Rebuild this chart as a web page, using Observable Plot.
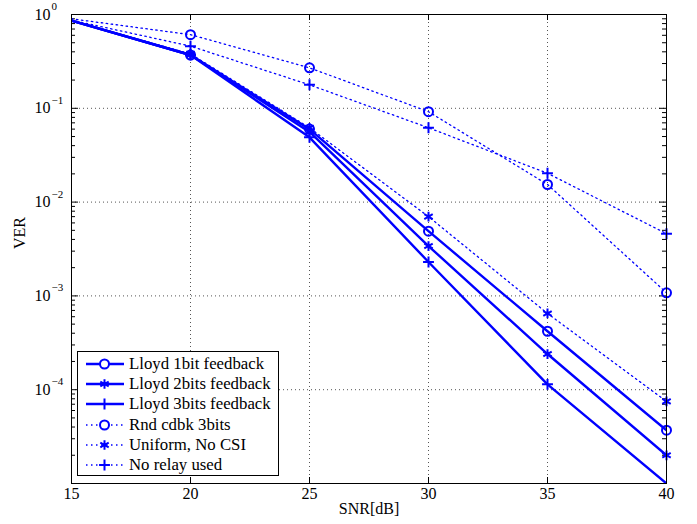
<!DOCTYPE html>
<html>
<head>
<meta charset="utf-8">
<script src="https://cdn.jsdelivr.net/npm/d3@7"></script>
<script src="https://cdn.jsdelivr.net/npm/@observablehq/plot@0.6"></script>
<style>
  html, body { margin: 0; padding: 0; background: white; }
  #wrap { position: relative; width: 697px; height: 524px; font-family: "Liberation Serif", "Times New Roman", serif; }
  #legend { position: absolute; left: 77px; top: 351px; width: 200px; height: 123px; border: 1px solid black; background: white; }
  .row { position: absolute; left: 0; height: 20px; display: flex; align-items: center; font-size: 16.8px; color: black; white-space: nowrap; }
  .row svg { margin-left: 7px; margin-right: 5px; }
</style>
</head>
<body>
<div id="wrap"><div id="legend"></div></div>
<script>
// ---- data ----
const snr = [15, 20, 25, 30, 35, 40];
const seriesNames = ["Lloyd 1bit feedback", "Lloyd 2bits feedback", "Lloyd 3bits feedback", "Rnd cdbk 3bits", "Uniform, No CSI", "No relay used"];
const lloyd1  = [0.86, 0.37, 0.060, 0.0049, 4.2e-4, 3.7e-5];
const lloyd2  = [0.86, 0.37, 0.056, 0.0034, 2.4e-4, 2.0e-5];
const lloyd3  = [0.86, 0.37, 0.049, 0.0023, 1.14e-4, 1.0e-5];
const rnd     = [0.90, 0.61, 0.27, 0.092, 0.0154, 0.00108];
const uniform = [0.86, 0.38, 0.062, 0.0070, 6.5e-4, 7.5e-5];
const norelay = [0.87, 0.46, 0.178, 0.062, 0.0203, 0.0046];
const xTicks = [15, 20, 25, 30, 35, 40];
const xGrid = [20, 25, 30, 35];
const yMajor = [1, 1e-1, 1e-2, 1e-3, 1e-4, 1e-5];
const yLabelExp = [0, -1, -2, -3, -4];
const yGrid = [1e-1, 1e-2, 1e-3, 1e-4];

// ---- styles per series ----
const styles = [
  {symbol: "circle", dash: null, r: 4.5},
  {symbol: "asterisk", dash: null, r: 4.6},
  {symbol: "plus", dash: null, r: 3.6},
  {symbol: "circle", dash: "1.5,3.5", r: 4.5},
  {symbol: "asterisk", dash: "1.5,3.5", r: 4.6},
  {symbol: "plus", dash: "1.5,3.5", r: 3.6}
];
const values = [lloyd1, lloyd2, lloyd3, rnd, uniform, norelay];

const minor = [];
for (let k = -5; k < 0; k++) for (let m = 2; m <= 9; m++) minor.push(m * Math.pow(10, k));

const plotH = 524 - 14 - 41, plotW = 697 - 71 - 31;

const marks = [
  Plot.ruleX(xGrid, {stroke: "#555", strokeDasharray: "1,3", strokeWidth: 1}),
  Plot.ruleY(yGrid, {stroke: "#555", strokeDasharray: "1,3", strokeWidth: 1}),
  // ticks (inside)
  Plot.tickX(xTicks, {x: d => d, insetTop: plotH - 6, stroke: "black"}),
  Plot.tickX(xTicks, {x: d => d, insetBottom: plotH - 6, stroke: "black"}),
  Plot.tickY(yMajor, {y: d => d, insetRight: plotW - 7, stroke: "black"}),
  Plot.tickY(yMajor, {y: d => d, insetLeft: plotW - 7, stroke: "black"}),
  Plot.tickY(minor, {y: d => d, insetRight: plotW - 4, stroke: "black"}),
  Plot.tickY(minor, {y: d => d, insetLeft: plotW - 4, stroke: "black"})
];

values.forEach((vals, i) => {
  const st = styles[i];
  const rows = snr.map((x, j) => ({snr: x, ver: vals[j]}));
  marks.push(Plot.line(rows, {x: "snr", y: "ver", stroke: "blue", strokeWidth: st.dash ? 1.3 : 2.4, strokeDasharray: st.dash, clip: true}));
  marks.push(Plot.dot(rows.filter(d => d.snr >= 20 && d.ver > 1e-5), {x: "snr", y: "ver", symbol: st.symbol, r: st.r, stroke: "blue", fill: "none", strokeWidth: 2}));
});

marks.push(
  Plot.frame({stroke: "black", strokeWidth: 1}),
  Plot.text(xTicks, {x: d => d, frameAnchor: "bottom", dy: 15, text: d => String(d), fontSize: 16, fill: "black"}),
  Plot.text(yLabelExp, {y: e => Math.pow(10, e), frameAnchor: "left", dx: -21, text: () => "10", textAnchor: "end", fontSize: 16, fill: "black"}),
  Plot.text(yLabelExp, {y: e => Math.pow(10, e), frameAnchor: "left", dx: -20, dy: -8, text: e => e === 0 ? "0" : "\u2212" + (-e), textAnchor: "start", fontSize: 11, fill: "black"}),
  Plot.text(["SNR[dB]"], {frameAnchor: "bottom", dy: 30, text: d => d, fontSize: 16, fill: "black"}),
  Plot.text(["VER"], {frameAnchor: "left", dx: -52, rotate: -90, text: d => d, fontSize: 16, fill: "black"})
);

const chart = Plot.plot({
  width: 697, height: 524,
  marginLeft: 71, marginRight: 31, marginTop: 14, marginBottom: 41,
  x: {domain: [15, 40], axis: null},
  y: {type: "log", domain: [1e-5, 1], axis: null},
  style: {fontFamily: "Liberation Serif, Times New Roman, serif", background: "white", overflow: "visible"},
  marks
});
document.getElementById("wrap").prepend(chart);
chart.style.position = "absolute"; chart.style.left = "0"; chart.style.top = "0";

// ---- legend ----
const legend = d3.select("#legend");
seriesNames.forEach((name, i) => {
  const st = styles[i];
  const row = legend.append("div").attr("class", "row").style("top", (2 + i * 20.2) + "px");
  const svg = row.append("svg").attr("width", 39).attr("height", 20);
  svg.append("line").attr("x1", 1).attr("x2", 39).attr("y1", 10).attr("y2", 10)
    .attr("stroke", "blue").attr("stroke-width", st.dash ? 1.3 : 2.4)
    .attr("stroke-dasharray", st.dash);
  const symType = st.symbol === "circle" ? d3.symbolCircle : st.symbol === "plus" ? d3.symbolPlus : d3.symbolAsterisk;
  svg.append("path").attr("transform", "translate(19.5,10)")
    .attr("d", d3.symbol(symType, Math.PI * st.r * st.r)())
    .attr("fill", st.symbol === "circle" ? "white" : "none").attr("stroke", "blue").attr("stroke-width", 2);
  row.append("span").text(name);
});
</script>
</body>
</html>
